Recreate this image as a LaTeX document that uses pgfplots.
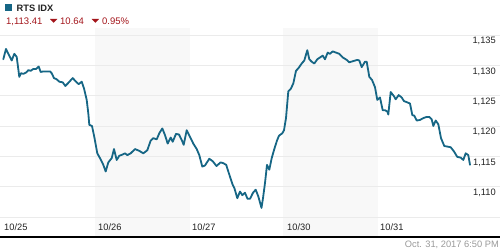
\documentclass[border=0pt]{standalone}
\usepackage{fontspec}
\setmainfont{Liberation Sans}
\usepackage{pgfplots}
\pgfplotsset{compat=1.18}
\definecolor{lineblue}{HTML}{166685}
\definecolor{band}{HTML}{F8F8F8}
\definecolor{gridc}{HTML}{EBEBEB}
\definecolor{down}{HTML}{A3151B}
\definecolor{txt}{HTML}{222222}
\definecolor{stamp}{HTML}{999999}
\pgfplotstableread{
x y
3.3 1131.0
6 1132.7
8.3 1131.9
11.7 1130.8
14.3 1131.9
16.7 1131.4
19.3 1128.1
21 1128.7
23.3 1128.6
26 1128.8
28.3 1129.2
30.7 1129.1
33.3 1129.4
36 1129.4
38.7 1129.8
40.7 1128.9
43.3 1129.0
46.7 1129.0
50 1129.0
51.7 1128.7
54 1127.9
56.7 1127.7
59.3 1127.3
62.7 1127.2
65.3 1126.6
68.3 1127.1
72.7 1127.9
76 1127.3
78.7 1126.9
81.7 1127.3
84 1126.2
86.7 1124.3
88.3 1122.1
89.3 1120.2
92 1120.0
94.3 1118.2
97.3 1115.5
100 1114.7
103.3 1113.6
105.7 1112.5
108.3 1114.0
111.7 1114.7
114 1116.2
116.7 1114.4
119.3 1115.1
122.7 1115.3
125 1115.5
127.3 1115.2
130.7 1115.5
135 1116.2
139.3 1115.9
143.3 1115.5
147.3 1116.0
150.7 1117.6
153.3 1118.0
156.7 1117.8
159.3 1118.8
162.3 1119.6
165 1118.5
167.7 1117.1
170.7 1118.1
172.7 1117.4
176 1118.7
179 1118.6
181.7 1117.7
183.7 1116.9
186.7 1119.3
190 1118.2
193.3 1117.1
196.7 1116.2
199.3 1115.2
202.3 1113.3
205 1113.5
209.3 1114.6
212.7 1114.2
216.5 1113.4
220.5 1114.0
223 1113.9
226.2 1113.6
228.3 1112.5
230.5 1111.4
232.7 1110.3
234.5 1109.7
237.3 1108.1
240 1109.2
242.3 1108.6
245 1109.0
247.5 1108.0
250 1108.0
253 1109.0
255.7 1109.5
258.3 1108.4
261.5 1106.5
263 1108.1
265 1110.6
267 1113.6
269.3 1112.8
271.7 1114.7
274.3 1116.2
277 1117.6
279 1118.4
282.3 1118.8
284 1119.3
286 1121.3
288.3 1125.7
290.7 1126.1
293.3 1127.0
296 1129.1
298.3 1129.5
301.7 1130.3
304.3 1130.8
307.3 1132.5
309.3 1131.0
311.7 1130.6
314.3 1130.3
317.3 1131.0
320 1131.3
322.7 1131.6
325 1131.0
327.7 1132.1
330 1131.9
332.7 1132.3
336 1132.1
339.3 1131.9
342.7 1131.3
346.7 1130.9
349.3 1130.5
353.3 1130.7
357.3 1130.9
359.3 1130.8
361.7 1129.7
365 1130.6
366.7 1130.6
369.3 1128.1
372 1127.6
375 1126.4
377.3 1124.3
380 1124.7
382.7 1122.6
385 1122.6
387.3 1122.4
388.3 1121.9
390.7 1125.6
394 1124.9
395.7 1124.4
398.7 1125.1
401.7 1124.7
404 1124.1
407.3 1123.9
410 1123.7
412.3 1121.8
414.3 1121.7
416.7 1120.9
420 1121.0
423.3 1121.3
426.7 1121.5
429.3 1121.5
431.7 1121.1
433.3 1120.0
435.7 1120.9
438.3 1120.3
441 1118.0
444.3 1116.7
447.7 1116.6
450.7 1116.5
454 1115.8
457.3 1114.9
460.7 1114.8
463.3 1114.4
465.7 1115.5
468.3 1115.2
470 1113.6
}\rtsdata
\begin{document}
\begin{tikzpicture}
\path[use as bounding box] (0bp,-14bp) rectangle (500bp,236bp);
\begin{axis}[at={(0bp,0bp)}, anchor=south west, scale only axis,
  width=500bp, height=208bp,
  xmin=0, xmax=500, ymin=1101.869, ymax=1136.154,
  axis line style={draw=none},
  xtick=\empty, ytick=\empty,
  clip=true]
\addplot[fill=band, draw=none] coordinates {(95,1101.869) (190,1101.869) (190,1136.154) (95,1136.154)} -- cycle;
\addplot[fill=band, draw=none] coordinates {(283,1101.869) (378,1101.869) (378,1136.154) (283,1136.154)} -- cycle;
\addplot[gridc, line width=1bp] coordinates {(0,1105) (500,1105)};
\addplot[gridc, line width=1bp] coordinates {(0,1110) (500,1110)};
\addplot[gridc, line width=1bp] coordinates {(0,1115) (500,1115)};
\addplot[gridc, line width=1bp] coordinates {(0,1120) (500,1120)};
\addplot[gridc, line width=1bp] coordinates {(0,1125) (500,1125)};
\addplot[gridc, line width=1bp] coordinates {(0,1130) (500,1130)};
\addplot[gridc, line width=1bp] coordinates {(0,1135) (500,1135)};
\addplot[lineblue, line width=1.8bp, line join=round, line cap=round] table[x=x,y=y] {\rtsdata};
\end{axis}
\draw[black, line width=2bp] (0bp,-1bp) -- (500bp,-1bp);
\begingroup
\fontsize{9.3bp}{11bp}\selectfont
\node[txt, anchor=north east, inner sep=0pt] at (496bp,198.7bp) {1,135};
\node[txt, anchor=north east, inner sep=0pt] at (496bp,168.4bp) {1,130};
\node[txt, anchor=north east, inner sep=0pt] at (496bp,138.0bp) {1,125};
\node[txt, anchor=north east, inner sep=0pt] at (496bp,107.7bp) {1,120};
\node[txt, anchor=north east, inner sep=0pt] at (496bp,77.4bp) {1,115};
\node[txt, anchor=north east, inner sep=0pt] at (496bp,47.0bp) {1,110};
\node[txt, anchor=base west, inner sep=0pt] at (4bp,5.3bp) {10/25};
\node[txt, anchor=base west, inner sep=0pt] at (98bp,5.3bp) {10/26};
\node[txt, anchor=base west, inner sep=0pt] at (192bp,5.3bp) {10/27};
\node[txt, anchor=base west, inner sep=0pt] at (287bp,5.3bp) {10/30};
\node[txt, anchor=base west, inner sep=0pt] at (380bp,5.3bp) {10/31};
\node[stamp, anchor=base east, inner sep=0pt] at (499bp,-11.3bp) {Oct. 31, 2017 6:50 PM};
\endgroup
\fill[lineblue] (5bp,224.5bp) rectangle (12bp,231.5bp);
\node[txt, anchor=base west, inner sep=0pt] at (16.5bp,224.5bp) {\fontsize{9.3bp}{11bp}\selectfont\bfseries RTS IDX};
\begingroup
\fontsize{9.5bp}{11bp}\selectfont
\node[down, anchor=base west, inner sep=0pt] at (6bp,211.3bp) {1,113.41};
\fill[down] (50bp,217bp) -- (57.3bp,217bp) -- (53.65bp,213.2bp) -- cycle;
\node[down, anchor=base west, inner sep=0pt] at (60bp,211.3bp) {10.64};
\fill[down] (91.7bp,217bp) -- (99bp,217bp) -- (95.35bp,213.2bp) -- cycle;
\node[down, anchor=base west, inner sep=0pt] at (102bp,211.3bp) {0.95\%};
\endgroup
\end{tikzpicture}
\end{document}
